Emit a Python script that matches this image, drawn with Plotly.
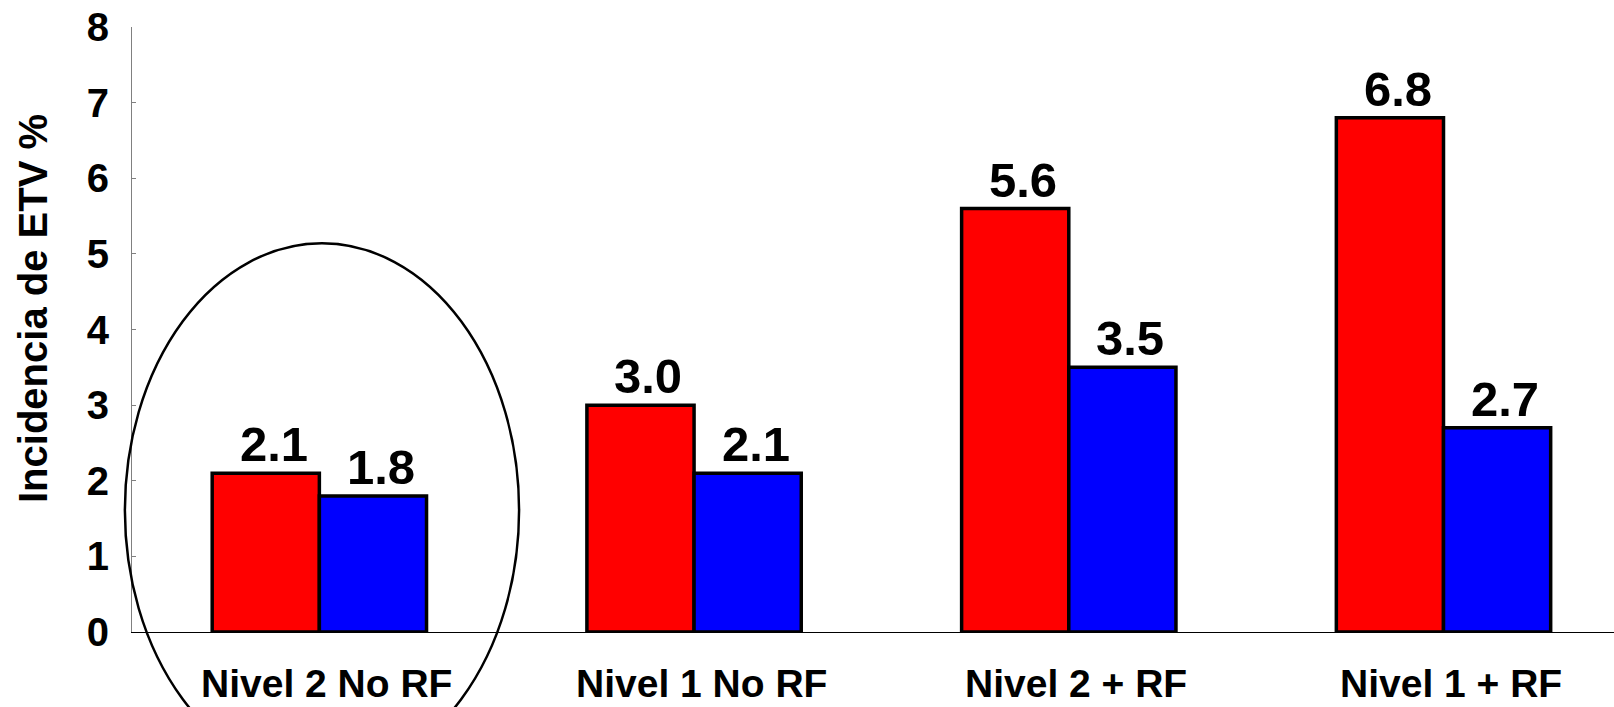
import plotly.graph_objects as go

# Incidencia de ETV por nivel de riesgo
categorias = ["Nivel 2 No RF", "Nivel 1 No RF", "Nivel 2 + RF", "Nivel 1 + RF"]
serie_roja = [2.1, 3.0, 5.6, 6.8]
serie_azul = [1.8, 2.1, 3.5, 2.7]
etiquetas_roja = ["2.1", "3.0", "5.6", "6.8"]
etiquetas_azul = ["1.8", "2.1", "3.5", "2.7"]
y_ticks = [0, 1, 2, 3, 4, 5, 6, 7, 8]

FONT = "Liberation Sans, Arial, sans-serif"
W, H = 1614, 707
M_L, M_R, M_T, M_B = 132, 0, 27, 75
PLOT_W, PLOT_H = W - M_L - M_R, H - M_T - M_B
X_RANGE = [-0.5, 3.455]
Y_RANGE = [0, 8]
BAR_OFFSET = 0.143  # half of one bar width, in category units

fig = go.Figure()
fig.add_trace(go.Bar(
    x=list(range(len(categorias))), y=serie_roja, name="rojo",
    marker=dict(color="#FF0000", line=dict(color="#000000", width=3.5)),
))
fig.add_trace(go.Bar(
    x=list(range(len(categorias))), y=serie_azul, name="azul",
    marker=dict(color="#0000FF", line=dict(color="#000000", width=3.5)),
))

# value labels above each bar
for i, (v, t) in enumerate(zip(serie_roja, etiquetas_roja)):
    fig.add_annotation(x=i - BAR_OFFSET, y=v, text=f"<b>{t}</b>", showarrow=False,
                       yanchor="bottom", xanchor="center", xshift=8, yshift=0,
                       font=dict(family=FONT, size=49, color="#000000"))
for i, (v, t) in enumerate(zip(serie_azul, etiquetas_azul)):
    fig.add_annotation(x=i + BAR_OFFSET, y=v, text=f"<b>{t}</b>", showarrow=False,
                       yanchor="bottom", xanchor="center", xshift=8, yshift=0,
                       font=dict(family=FONT, size=49, color="#000000"))

# category labels along the bottom edge
for i, c in enumerate(categorias):
    fig.add_annotation(x=i, xref="x", y=-M_B / PLOT_H, yref="paper", text=f"<b>{c}</b>",
                       showarrow=False, xanchor="center", yanchor="bottom",
                       xshift=7, yshift=0,
                       font=dict(family=FONT, size=39, color="#000000"))

# vertical axis title
fig.add_annotation(xref="paper", yref="paper", x=-(M_L - 33) / PLOT_W,
                   y=(H - M_B - 309) / PLOT_H,
                   text="<b>Incidencia de ETV %</b>", textangle=-90, showarrow=False,
                   xanchor="center", yanchor="middle",
                   font=dict(family=FONT, size=40, color="#000000"))

# ellipse around the first group (data units, converted to paper fractions)
cx, rx = 0.007, 0.526
cy, ry = 1.61, 3.53
def px(v):
    return (v - X_RANGE[0]) / (X_RANGE[1] - X_RANGE[0])
def py(v):
    return (v - Y_RANGE[0]) / (Y_RANGE[1] - Y_RANGE[0])
fig.add_shape(type="circle", xref="paper", yref="paper",
              x0=px(cx - rx), x1=px(cx + rx), y0=py(cy - ry), y1=py(cy + ry),
              line=dict(color="#000000", width=2.5), layer="above")

fig.update_layout(
    width=W, height=H,
    margin=dict(l=M_L, r=M_R, t=M_T, b=M_B),
    paper_bgcolor="#FFFFFF", plot_bgcolor="#FFFFFF",
    barmode="group", bargap=0.428, bargroupgap=0,
    showlegend=False,
    font=dict(family=FONT, color="#000000"),
    xaxis=dict(
        range=X_RANGE, tickmode="array",
        tickvals=list(range(len(categorias))),
        showticklabels=False,
        showline=True, linecolor="#000000", linewidth=1,
        showgrid=False, zeroline=False, ticks="", automargin=False,
    ),
    yaxis=dict(
        range=Y_RANGE, tickmode="array", tickvals=y_ticks,
        ticktext=[f"<b>{t}</b>" for t in y_ticks],
        tickfont=dict(family=FONT, size=40, color="#000000"),
        showline=True, linecolor="#808080", linewidth=1,
        ticks="inside", ticklen=4, tickcolor="#808080", tickwidth=1,
        showgrid=False, zeroline=False,
        ticklabelstandoff=14, automargin=False,
    ),
)

fig.write_html("out.html")
